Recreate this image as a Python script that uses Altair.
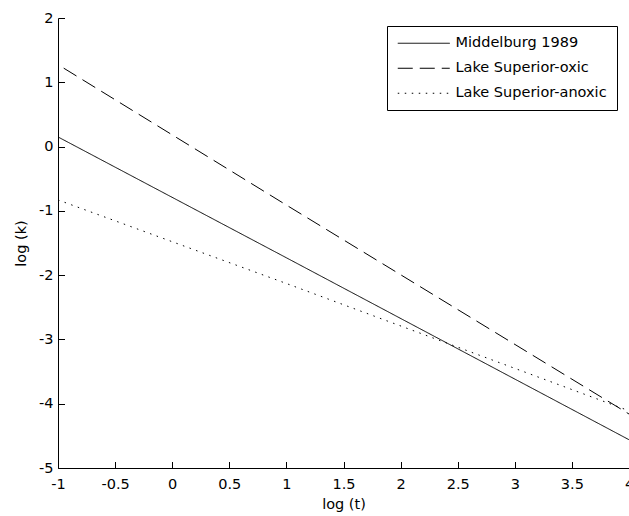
import altair as alt
import pandas as pd

# ---- data ----
series_names = ["Middelburg 1989", "Lake Superior-oxic", "Lake Superior-anoxic"]
middelburg_t = [-1.0, 1.0, 4.0]
middelburg_k = [0.15, -1.73, -4.56]
oxic_t = [-0.95, 1.0, 4.0]
oxic_k = [1.22, -0.91, -4.16]
anoxic_t = [-1.0, 1.0, 4.0]
anoxic_k = [-0.83, -2.13, -4.11]
x_ticks = [-1, -0.5, 0, 0.5, 1, 1.5, 2, 2.5, 3, 3.5, 4]
y_ticks = [-5, -4, -3, -2, -1, 0, 1, 2]

rows = []
for name, ts, ks in zip(series_names,
                        [middelburg_t, oxic_t, anoxic_t],
                        [middelburg_k, oxic_k, anoxic_k]):
    for i, (t, k) in enumerate(zip(ts, ks)):
        rows.append({"series": name, "order": i, "log_t": t, "log_k": k})
df = pd.DataFrame(rows)

FONT = "DejaVu Sans"
FS = 14.5
TICK = 6.5
label_expr = "'' + datum.value"

xscale = alt.Scale(domain=[-1, 4], nice=False, zero=False)
yscale = alt.Scale(domain=[-5, 2], nice=False, zero=False)

lines = alt.Chart(df).mark_line(color="black", strokeWidth=1).encode(
    x=alt.X("log_t:Q", scale=xscale,
            axis=alt.Axis(values=x_ticks, labelExpr=label_expr, title="log (t)",
                          ticks=False, grid=False, domain=True, labelFlush=False,
                          labelOverlap=False, labelPadding=9, orient="bottom",
                          titleBaseline="top", titleY=29)),
    y=alt.Y("log_k:Q", scale=yscale,
            axis=alt.Axis(values=y_ticks, labelExpr=label_expr, title="log (k)",
                          ticks=False, grid=False, domain=True, labelFlush=False,
                          labelOverlap=False, labelPadding=5, orient="left",
                          titleBaseline="middle", titleX=-37)),
    strokeDash=alt.StrokeDash(
        "series:N",
        scale=alt.Scale(domain=series_names, range=[[1, 0], [15, 7], [1.5, 5.5]]),
        legend=alt.Legend(title=None, orient="none", legendX=329, legendY=8,
                          padding=10, strokeColor="black", fillColor="white",
                          symbolType="M-1,0H7", symbolSize=169,
                          symbolStrokeWidth=1, symbolStrokeColor="black",
                          labelFont=FONT, labelFontSize=FS, labelColor="black",
                          labelOffset=44, rowPadding=10, labelLimit=400),
    ),
    order="order:Q",
)

# second layer only carries the inward-pointing tick marks of both axes
ticks = alt.Chart(df).mark_line(opacity=0).encode(
    x=alt.X("log_t:Q", scale=xscale,
            axis=alt.Axis(values=x_ticks, labels=False, domain=False, ticks=True,
                          tickSize=TICK, tickColor="black", tickWidth=1,
                          offset=-TICK, title=None, grid=False, orient="bottom")),
    y=alt.Y("log_k:Q", scale=yscale,
            axis=alt.Axis(values=y_ticks, labels=False, domain=False, ticks=True,
                          tickSize=TICK, tickColor="black", tickWidth=1,
                          offset=-TICK, title=None, grid=False, orient="left")),
    detail="series:N",
)

chart = (
    alt.layer(lines, ticks)
    .resolve_scale(x="independent", y="independent")
    .resolve_axis(x="independent", y="independent")
    .properties(width=571, height=450,
                padding={"left": 58, "top": 18, "right": 0, "bottom": 48},
                autosize=alt.AutoSizeParams(type="none"))
    .configure_view(stroke=None)
    .configure_axis(domainColor="black", labelColor="black",
                    labelFont=FONT, labelFontSize=FS, titleFont=FONT,
                    titleFontSize=FS, titleFontWeight="normal", titleColor="black",
                    domainWidth=1)
)

chart.save("out.html", embed_options={"renderer": "svg", "actions": False})
